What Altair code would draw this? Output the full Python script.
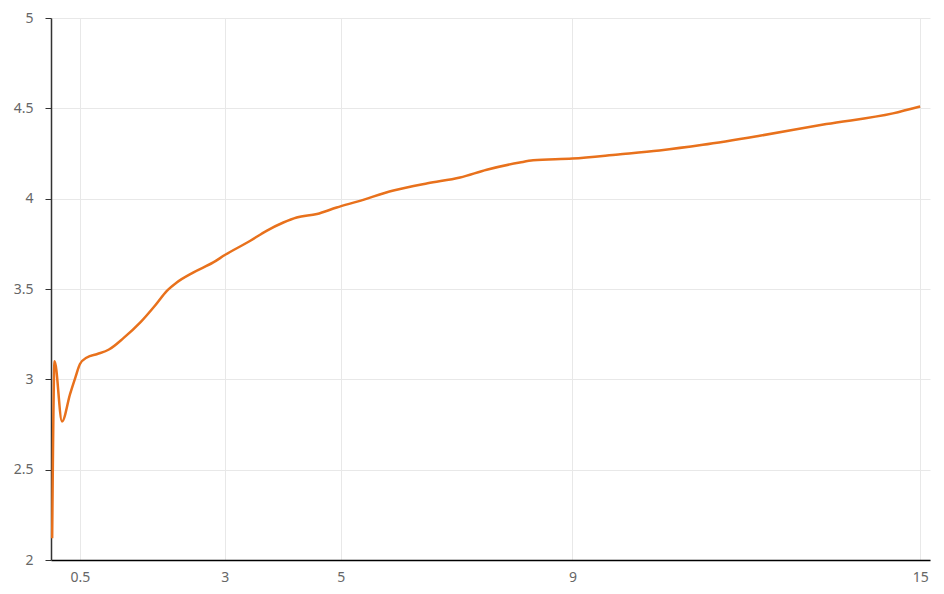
import altair as alt
import pandas as pd

xs = [0.02, 0.062, 0.19, 0.33, 0.42, 0.5, 0.62, 0.8, 1.0, 1.25, 1.55, 1.8, 2.0, 2.17,
      2.46, 2.8, 3.0, 3.44, 3.72, 4.01, 4.24, 4.59, 4.93, 5.3, 5.91, 6.5, 7.06, 7.52,
      8.09, 8.32, 9.0, 9.79, 10.5, 11.25, 12.23, 13.38, 14.53, 15.0]
ys = [2.12, 3.10, 2.767, 2.92, 3.01, 3.085, 3.121, 3.14, 3.165, 3.228, 3.318, 3.41, 3.49, 3.536,
      3.592, 3.647, 3.688, 3.767, 3.822, 3.868, 3.896, 3.915, 3.951, 3.985, 4.045, 4.085, 4.117, 4.16,
      4.2, 4.212, 4.222, 4.245, 4.267, 4.298, 4.348, 4.413, 4.472, 4.51]
x_ticks = [0.5, 3, 5, 9, 15]
y_ticks = [2, 2.5, 3, 3.5, 4, 4.5, 5]

df = pd.DataFrame({"x": xs, "y": ys})

chart = alt.Chart(df).mark_line(
    color="#e8711c", strokeWidth=2.5, interpolate="monotone"
).encode(
    x=alt.X("x:Q", scale=alt.Scale(domain=[0, 15.17], nice=False, zero=False),
            axis=alt.Axis(values=x_ticks, format="~g", title=None, ticks=False,
                          domainColor="#000000", domainWidth=1.5, labelPadding=10,
                          gridColor="#e8e8e8", labelFlush=False)),
    y=alt.Y("y:Q", scale=alt.Scale(domain=[2, 5], nice=False, zero=False),
            axis=alt.Axis(values=y_ticks, format="~g", title=None, tickSize=6,
                          tickColor="#333333", domainColor="#333333", domainWidth=1.5,
                          labelPadding=12, gridColor="#e8e8e8", labelFlush=False)),
).properties(
    width=879, height=542,
    autosize=alt.AutoSizeParams(type="none"),
    padding={"left": 43, "top": 10, "right": 6, "bottom": 26},
).configure_view(stroke=None).configure_axis(
    labelFont="Noto Sans", labelFontSize=14, labelColor="#666666"
)

chart.save("out.html", embed_options={"renderer": "svg", "actions": False})
